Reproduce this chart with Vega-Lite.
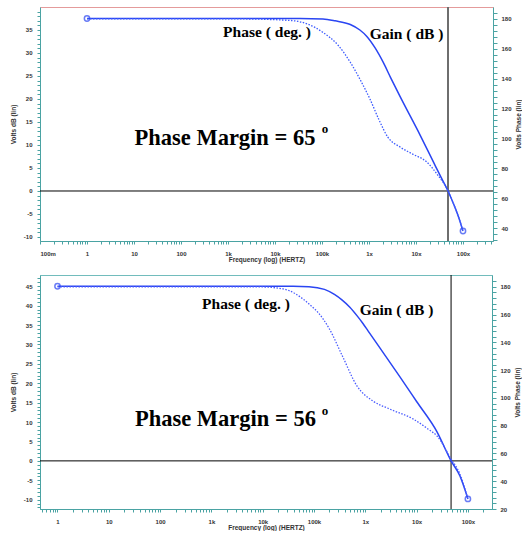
{
  "$schema": "https://vega.github.io/schema/vega-lite/v6.json",
  "background": "white",
  "padding": {"left": 9, "top": 5, "right": 0, "bottom": 0},
  "spacing": 11,
  "datasets": {
    "topGain": [
      {"f": 1, "gain": 37.5}, {"f": 10, "gain": 37.5}, {"f": 100, "gain": 37.5}, {"f": 1000, "gain": 37.5},
      {"f": 10000, "gain": 37.5}, {"f": 34000, "gain": 37.5}, {"f": 105000, "gain": 37.4}, {"f": 190000, "gain": 37.0},
      {"f": 400000, "gain": 36.2}, {"f": 640000, "gain": 35.0}, {"f": 900000, "gain": 33.6}, {"f": 1350000, "gain": 31.1},
      {"f": 2000000, "gain": 28.0}, {"f": 2900000, "gain": 24.6}, {"f": 4600000, "gain": 20.5}, {"f": 12300000, "gain": 12.1},
      {"f": 24000000, "gain": 6.1}, {"f": 34000000, "gain": 3.0}, {"f": 48000000, "gain": 0}, {"f": 67000000, "gain": -3.5},
      {"f": 82000000, "gain": -5.9}, {"f": 100000000, "gain": -8.7}
    ],
    "topPhase": [
      {"f": 1, "phase": 180}, {"f": 100, "phase": 180}, {"f": 1800, "phase": 180}, {"f": 21000, "phase": 179},
      {"f": 50000, "phase": 176.5}, {"f": 105000, "phase": 171}, {"f": 220000, "phase": 162.4}, {"f": 400000, "phase": 151},
      {"f": 640000, "phase": 139.7}, {"f": 1050000, "phase": 126.3}, {"f": 1640000, "phase": 112.3}, {"f": 2500000, "phase": 101},
      {"f": 4600000, "phase": 94.2}, {"f": 8500000, "phase": 89.5}, {"f": 17000000, "phase": 84.2}, {"f": 28000000, "phase": 76.1},
      {"f": 48000000, "phase": 65}, {"f": 67000000, "phase": 54}, {"f": 82000000, "phase": 46.7}, {"f": 100000000, "phase": 38}
    ],
    "topEnds": [{"f": 1, "gain": 37.5}, {"f": 100000000, "gain": -8.7}],
    "topLabels": [
      {"f": 6760, "gain": 34.6, "label": "Phase ( deg. )"},
      {"f": 6300000, "gain": 34.2, "label": "Gain ( dB )"}
    ],
    "topPM": [{"f": 863, "gain": 11.5, "label": "Phase Margin = 65"}],
    "topDeg": [{"f": 116000, "gain": 13.5, "label": "o"}],
    "topZero": [{"f": 0.1, "f2": 435000000, "gain": 0}],
    "topCross": [{"f": 48000000, "gain": -10.87, "gain2": 40}],
    "botGain": [
      {"f": 1, "gain": 45}, {"f": 10, "gain": 45}, {"f": 100, "gain": 45}, {"f": 1000, "gain": 45},
      {"f": 10000, "gain": 45}, {"f": 39000, "gain": 45}, {"f": 80000, "gain": 44.9}, {"f": 160000, "gain": 44.2},
      {"f": 250000, "gain": 42.9}, {"f": 350000, "gain": 41.5}, {"f": 500000, "gain": 39.6}, {"f": 700000, "gain": 37.3},
      {"f": 900000, "gain": 35.4}, {"f": 1130000, "gain": 33.5}, {"f": 2000000, "gain": 28.8}, {"f": 4700000, "gain": 21.7},
      {"f": 10000000, "gain": 15.3}, {"f": 25000000, "gain": 7.5}, {"f": 47000000, "gain": 0}, {"f": 70000000, "gain": -3.9},
      {"f": 100000000, "gain": -9.8}
    ],
    "botPhase": [
      {"f": 1, "phase": 180}, {"f": 1000, "phase": 180}, {"f": 8900, "phase": 180}, {"f": 25000, "phase": 178.6},
      {"f": 73000, "phase": 169}, {"f": 150000, "phase": 157}, {"f": 200000, "phase": 149.7}, {"f": 360000, "phase": 130},
      {"f": 690000, "phase": 108.6}, {"f": 1410000, "phase": 97.8}, {"f": 3000000, "phase": 92}, {"f": 8500000, "phase": 84.9},
      {"f": 16600000, "phase": 77.7}, {"f": 25000000, "phase": 72.6}, {"f": 47000000, "phase": 56}, {"f": 70000000, "phase": 45.2},
      {"f": 100000000, "phase": 27.2}
    ],
    "botEnds": [{"f": 1, "gain": 45}, {"f": 100000000, "gain": -9.8}],
    "botLabels": [
      {"f": 4720, "gain": 40.5, "label": "Phase ( deg. )"},
      {"f": 4060000, "gain": 38.9, "label": "Gain ( dB )"}
    ],
    "botPM": [{"f": 1880, "gain": 10.8, "label": "Phase Margin = 56"}],
    "botDeg": [{"f": 164000, "gain": 12.9, "label": "o"}],
    "botZero": [{"f": 0.456, "f2": 295000000, "gain": 0}],
    "botCross": [{"f": 47000000, "gain": -12.4, "gain2": 47.9}]
  },
  "vconcat": [
    {
      "width": 453,
      "height": 234,
      "view": {"stroke": "#e49b9b"},
      "encoding": {
        "x": {"field": "f", "type": "quantitative", "scale": {"type": "log", "domain": [0.1, 435000000], "nice": false},
          "axis": {"title": "Frequency (log) (HERTZ)", "labelPadding": 6, "titlePadding": 0, "labelFlush": true, "labelOverlap": false, "tickSize": 3,
            "values": [0.1,0.2,0.3,0.4,0.5,0.6,0.7,0.8,0.9,1,2,3,4,5,6,7,8,9,10,20,30,40,50,60,70,80,90,100,200,300,400,500,600,700,800,900,1000,2000,3000,4000,5000,6000,7000,8000,9000,10000,20000,30000,40000,50000,60000,70000,80000,90000,100000,200000,300000,400000,500000,600000,700000,800000,900000,1000000,2000000,3000000,4000000,5000000,6000000,7000000,8000000,9000000,10000000,20000000,30000000,40000000,50000000,60000000,70000000,80000000,90000000,100000000,200000000,300000000,400000000],
            "labelExpr": "abs(log(datum.value)/LN10 - round(log(datum.value)/LN10)) > 0.001 ? '' : datum.value < 0.5 ? '100m' : datum.value < 999 ? format(datum.value, 'd') : datum.value < 999999 ? format(datum.value/1000, 'd') + 'k' : format(datum.value/1000000, 'd') + 'x'"}}
      },
      "layer": [
        {
          "encoding": {
            "y": {"field": "gain", "type": "quantitative", "scale": {"domain": [-10.87, 40], "nice": false, "zero": false},
              "axis": {"orient": "left", "title": "Volts dB (lin)", "tickSize": 3, "labelPadding": 5, "titlePadding": 8, "minExtent": 16, "maxExtent": 16, "labelOverlap": false,
                "values": [-10,-9,-8,-7,-6,-5,-4,-3,-2,-1,0,1,2,3,4,5,6,7,8,9,10,11,12,13,14,15,16,17,18,19,20,21,22,23,24,25,26,27,28,29,30,31,32,33,34,35,36,37,38,39],
                "labelExpr": "datum.value % 5 != 0 ? '' : (datum.value < 0 ? '-' + (-datum.value) : '' + datum.value)"}}
          },
          "layer": [
            {
              "data": {"name": "topZero"},
              "mark": {"type": "rule", "color": "black", "strokeWidth": 1},
              "encoding": {"x2": {"field": "f2"}}
            },
            {
              "data": {"name": "topCross"},
              "mark": {"type": "rule", "color": "#6e6e6e", "strokeWidth": 2},
              "encoding": {"y2": {"field": "gain2"}}
            },
            {
              "data": {"name": "topGain"},
              "mark": {"type": "line", "color": "#2a45f2", "strokeWidth": 1.5, "interpolate": "monotone"}
            },
            {
              "data": {"name": "topEnds"},
              "mark": {"type": "point", "shape": "circle", "filled": false, "color": "#2a45f2", "size": 28, "strokeWidth": 1.5}
            },
            {
              "data": {"name": "topLabels"},
              "mark": {"type": "text", "font": "Liberation Serif", "fontWeight": "bold", "fontSize": 15.5, "color": "black", "align": "center", "baseline": "middle"},
              "encoding": {"text": {"field": "label"}}
            },
            {
              "data": {"name": "topPM"},
              "mark": {"type": "text", "font": "Liberation Serif", "fontWeight": "bold", "fontSize": 22.5, "color": "black", "align": "center", "baseline": "middle"},
              "encoding": {"text": {"field": "label"}}
            },
            {
              "data": {"name": "topDeg"},
              "mark": {"type": "text", "font": "Liberation Serif", "fontWeight": "bold", "fontSize": 13, "color": "black", "align": "center", "baseline": "middle"},
              "encoding": {"text": {"field": "label"}}
            }
          ]
        },
        {
          "encoding": {
            "y": {"field": "phase", "type": "quantitative", "scale": {"domain": [31.3, 188], "nice": false, "zero": false},
              "axis": {"orient": "right", "title": "Volts Phase (lin)", "titleAngle": 270, "tickSize": 4, "labelPadding": 4, "titlePadding": 10, "minExtent": 18, "maxExtent": 18, "labelOverlap": false,
                "values": [32,36,40,44,48,52,56,60,64,68,72,76,80,84,88,92,96,100,104,108,112,116,120,124,128,132,136,140,144,148,152,156,160,164,168,172,176,180,184],
                "labelExpr": "datum.value % 20 != 0 ? '' : '' + datum.value"}}
          },
          "layer": [
            {
              "data": {"name": "topPhase"},
              "mark": {"type": "line", "color": "#3d5cff", "strokeWidth": 1.3, "strokeDash": [1.5, 1.5], "interpolate": "monotone"}
            }
          ]
        }
      ],
      "resolve": {"scale": {"y": "independent"}, "axis": {"y": "independent"}}
    },
    {
      "width": 452,
      "height": 234,
      "view": {"stroke": "#72bcbc"},
      "encoding": {
        "x": {"field": "f", "type": "quantitative", "scale": {"type": "log", "domain": [0.456, 295000000], "nice": false},
          "axis": {"title": "Frequency (log) (HERTZ)", "labelPadding": 6, "titlePadding": 0, "labelFlush": false, "labelOverlap": false, "tickSize": 3,
            "values": [0.5,0.6,0.7,0.8,0.9,1,2,3,4,5,6,7,8,9,10,20,30,40,50,60,70,80,90,100,200,300,400,500,600,700,800,900,1000,2000,3000,4000,5000,6000,7000,8000,9000,10000,20000,30000,40000,50000,60000,70000,80000,90000,100000,200000,300000,400000,500000,600000,700000,800000,900000,1000000,2000000,3000000,4000000,5000000,6000000,7000000,8000000,9000000,10000000,20000000,30000000,40000000,50000000,60000000,70000000,80000000,90000000,100000000,200000000],
            "labelExpr": "abs(log(datum.value)/LN10 - round(log(datum.value)/LN10)) > 0.001 ? '' : datum.value < 0.5 ? '100m' : datum.value < 999 ? format(datum.value, 'd') : datum.value < 999999 ? format(datum.value/1000, 'd') + 'k' : format(datum.value/1000000, 'd') + 'x'"}}
      },
      "layer": [
        {
          "encoding": {
            "y": {"field": "gain", "type": "quantitative", "scale": {"domain": [-12.4, 47.9], "nice": false, "zero": false},
              "axis": {"orient": "left", "title": "Volts dB (lin)", "tickSize": 3, "labelPadding": 5, "titlePadding": 8, "minExtent": 16, "maxExtent": 16, "labelOverlap": false,
                "values": [-12,-11,-10,-9,-8,-7,-6,-5,-4,-3,-2,-1,0,1,2,3,4,5,6,7,8,9,10,11,12,13,14,15,16,17,18,19,20,21,22,23,24,25,26,27,28,29,30,31,32,33,34,35,36,37,38,39,40,41,42,43,44,45,46,47],
                "labelExpr": "datum.value % 5 != 0 ? '' : (datum.value < 0 ? '-' + (-datum.value) : '' + datum.value)"}}
          },
          "layer": [
            {
              "data": {"name": "botZero"},
              "mark": {"type": "rule", "color": "black", "strokeWidth": 1},
              "encoding": {"x2": {"field": "f2"}}
            },
            {
              "data": {"name": "botCross"},
              "mark": {"type": "rule", "color": "black", "strokeWidth": 1},
              "encoding": {"y2": {"field": "gain2"}}
            },
            {
              "data": {"name": "botGain"},
              "mark": {"type": "line", "color": "#2a45f2", "strokeWidth": 1.5, "interpolate": "monotone"}
            },
            {
              "data": {"name": "botEnds"},
              "mark": {"type": "point", "shape": "circle", "filled": false, "color": "#2a45f2", "size": 28, "strokeWidth": 1.5}
            },
            {
              "data": {"name": "botLabels"},
              "mark": {"type": "text", "font": "Liberation Serif", "fontWeight": "bold", "fontSize": 15.5, "color": "black", "align": "center", "baseline": "middle"},
              "encoding": {"text": {"field": "label"}}
            },
            {
              "data": {"name": "botPM"},
              "mark": {"type": "text", "font": "Liberation Serif", "fontWeight": "bold", "fontSize": 22.5, "color": "black", "align": "center", "baseline": "middle"},
              "encoding": {"text": {"field": "label"}}
            },
            {
              "data": {"name": "botDeg"},
              "mark": {"type": "text", "font": "Liberation Serif", "fontWeight": "bold", "fontSize": 13, "color": "black", "align": "center", "baseline": "middle"},
              "encoding": {"text": {"field": "label"}}
            }
          ]
        },
        {
          "encoding": {
            "y": {"field": "phase", "type": "quantitative", "scale": {"domain": [20, 188.6], "nice": false, "zero": false},
              "axis": {"orient": "right", "title": "Volts Phase (lin)", "titleAngle": 270, "tickSize": 4, "labelPadding": 4, "titlePadding": 10, "minExtent": 18, "maxExtent": 18, "labelOverlap": false,
                "values": [20,24,28,32,36,40,44,48,52,56,60,64,68,72,76,80,84,88,92,96,100,104,108,112,116,120,124,128,132,136,140,144,148,152,156,160,164,168,172,176,180,184],
                "labelExpr": "datum.value % 20 != 0 ? '' : '' + datum.value"}}
          },
          "layer": [
            {
              "data": {"name": "botPhase"},
              "mark": {"type": "line", "color": "#4a5cff", "strokeWidth": 1.3, "strokeDash": [1.5, 1.5], "interpolate": "monotone"}
            }
          ]
        }
      ],
      "resolve": {"scale": {"y": "independent"}, "axis": {"y": "independent"}}
    }
  ],
  "config": {
    "view": {"stroke": "#e49b9b", "strokeWidth": 1},
    "axis": {
      "grid": false,
      "labelOverlap": false,
      "domainColor": "#4aa3a3",
      "tickColor": "#4aa3a3",
      "labelFont": "Liberation Sans",
      "labelFontSize": 6,
      "labelFontWeight": "bold",
      "labelColor": "#333333",
      "titleFont": "Liberation Sans",
      "titleFontSize": 6.5,
      "titleFontWeight": "bold",
      "titleColor": "#333333"
    }
  }
}
